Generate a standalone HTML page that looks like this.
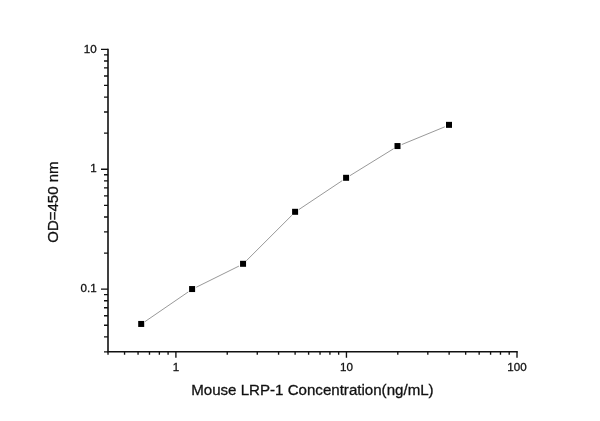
<!DOCTYPE html><html><head><meta charset="utf-8"><title>Mouse LRP-1 standard curve</title><style>html,body{margin:0;padding:0;background:#fff}svg{display:block}text{font-family:"Liberation Sans",Arial,sans-serif;fill:#111;stroke:#111;stroke-width:0.3px}</style></head><body>
<svg width="600" height="421" viewBox="0 0 600 421">
<rect width="600" height="421" fill="#fff"/>
<path d="M108.0 48.669999999999995V351.7H517.75" stroke="#111" stroke-width="1.6" fill="none"/>
<path d="M104.0 351.84H108.0M104.0 336.86H108.0M104.0 325.24H108.0M104.0 315.75H108.0M104.0 307.72H108.0M104.0 300.77H108.0M104.0 294.64H108.0M101.0 289.15H108.0M104.0 253.06H108.0M104.0 231.94H108.0M104.0 216.96H108.0M104.0 205.34H108.0M104.0 195.85H108.0M104.0 187.82H108.0M104.0 180.87H108.0M104.0 174.74H108.0M101.0 169.25H108.0M104.0 133.16H108.0M104.0 112.04H108.0M104.0 97.06H108.0M104.0 85.44H108.0M104.0 75.95H108.0M104.0 67.92H108.0M104.0 60.97H108.0M104.0 54.84H108.0M101.0 49.35H108.0" stroke="#111" stroke-width="1.35" fill="none"/>
<path d="M108.03 351.7V354.7M124.56 351.7V354.7M138.06 351.7V354.7M149.48 351.7V354.7M159.37 351.7V354.7M168.10 351.7V354.7M175.90 351.7V357.7M227.24 351.7V354.7M257.27 351.7V354.7M278.58 351.7V354.7M295.11 351.7V354.7M308.61 351.7V354.7M320.03 351.7V354.7M329.92 351.7V354.7M338.65 351.7V354.7M346.45 351.7V357.7M397.79 351.7V354.7M427.82 351.7V354.7M449.13 351.7V354.7M465.66 351.7V354.7M479.16 351.7V354.7M490.58 351.7V354.7M500.47 351.7V354.7M509.20 351.7V354.7M517.00 351.7V357.7" stroke="#111" stroke-width="1.35" fill="none"/>
<path d="M144.99 321.60L188.31 291.90M196.22 287.26L238.93 266.09M246.30 260.80L291.85 215.30M298.93 209.50L342.27 180.60M350.01 175.63L393.59 148.72M401.75 144.55L444.75 126.85" stroke="#999" stroke-width="1" fill="none"/>
<rect x="138.20" y="320.95" width="6" height="6" fill="#000"/>
<rect x="189.10" y="286.05" width="6" height="6" fill="#000"/>
<rect x="240.05" y="260.80" width="6" height="6" fill="#000"/>
<rect x="292.10" y="208.80" width="6" height="6" fill="#000"/>
<rect x="343.10" y="174.80" width="6" height="6" fill="#000"/>
<rect x="394.50" y="143.05" width="6" height="6" fill="#000"/>
<rect x="446.00" y="121.85" width="6" height="6" fill="#000"/>
<text x="96.7" y="52.55" font-size="11.6" text-anchor="end">10</text>
<text x="96.7" y="172.45" font-size="11.6" text-anchor="end">1</text>
<text x="96.7" y="292.35" font-size="11.6" text-anchor="end">0.1</text>
<text x="175.90" y="371.2" font-size="11.6" text-anchor="middle">1</text>
<text x="346.45" y="371.2" font-size="11.6" text-anchor="middle">10</text>
<text x="517.00" y="371.2" font-size="11.6" text-anchor="middle">100</text>
<text x="312.4" y="395.3" font-size="15.1" text-anchor="middle">Mouse LRP-1 Concentration(ng/mL)</text>
<text transform="translate(58.2 202.1) rotate(-90)" font-size="15" text-anchor="middle">OD=450 nm</text>
</svg></body></html>
